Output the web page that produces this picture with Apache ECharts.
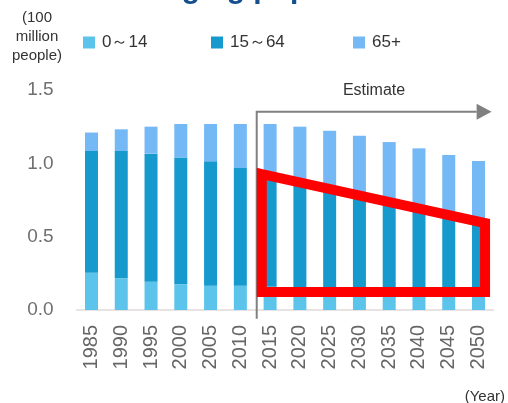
<!DOCTYPE html>
<html>
<head>
<meta charset="utf-8">
<script src="https://cdn.jsdelivr.net/npm/echarts@6/dist/echarts.min.js"></script>
<style>
  html, body { margin: 0; padding: 0; background: #ffffff; }
  #chart { width: 508px; height: 403px; }
</style>
</head>
<body>
<div id="chart"></div>
<script>
// Population by age group, in units of 100 million people
const years = ['1985', '1990', '1995', '2000', '2005', '2010', '2015',
               '2020', '2025', '2030', '2035', '2040', '2045', '2050'];
const age0to14  = [0.254, 0.216, 0.193, 0.175, 0.166, 0.166, 0.158,
                   0.146, 0.132, 0.120, 0.110, 0.103, 0.097, 0.094];
const age15to64 = [0.830, 0.868, 0.873, 0.865, 0.848, 0.802, 0.757,
                   0.724, 0.694, 0.661, 0.626, 0.588, 0.550, 0.508];
const age65plus = [0.126, 0.148, 0.184, 0.228, 0.254, 0.300, 0.353,
                   0.380, 0.396, 0.407, 0.409, 0.411, 0.410, 0.414];
const yTicks = { min: 0, max: 1.5, step: 0.5 };

// Estimate annotations, in axis units (category index, 100 million people)
const frameX = [5.72, 13.22];
const frameTop = [0.927, 0.593];
const frameBottom = 0.123;
const arrowX = [5.55, 13.44];
const arrowY = 1.352;
const arrowFootY = -0.06;
const estimateLabelPos = [9.49, 1.493];

const colors = { young: '#5cc3ea', working: '#169acd', old: '#74b8f6' };

const chart = echarts.init(document.getElementById('chart'));

const legendBase = {
  top: 29,
  itemWidth: 12,
  itemHeight: 12,
  icon: 'rect',
  selectedMode: false,
  textStyle: { fontSize: 17, color: '#333333', fontFamily: 'Liberation Sans, Arial, sans-serif', padding: [0, 0, 0, 2] }
};

function bar(name, data, color) {
  return {
    name: name,
    type: 'bar',
    stack: 'pop',
    barWidth: 13,
    data: data,
    itemStyle: { color: color },
    emphasis: { disabled: true }
  };
}

chart.setOption({
  animation: false,
  textStyle: { fontFamily: 'Liberation Sans, Arial, sans-serif' },
  grid: { left: 76.6, right: 14.6, top: 90, bottom: 93 },
  legend: [
    Object.assign({ left: 78, data: ['0～14'] }, legendBase),
    Object.assign({ left: 206, data: ['15～64'] }, legendBase),
    Object.assign({ left: 348, data: ['65+'] }, legendBase)
  ],
  xAxis: [{
    type: 'category',
    data: years,
    axisLine: { lineStyle: { color: '#e2d9d9', width: 1.5 } },
    axisTick: { show: false },
    axisLabel: { rotate: 90, fontSize: 20, color: '#666666', margin: 15 }
  }, {
    type: 'value',
    min: -0.5,
    max: years.length - 0.5,
    show: false
  }],
  yAxis: {
    type: 'value',
    min: yTicks.min,
    max: yTicks.max,
    interval: yTicks.step,
    axisLine: { show: false },
    axisTick: { show: false },
    splitLine: { show: false },
    axisLabel: {
      fontSize: 19, color: '#6f6f6f', margin: 23,
      formatter: v => v.toFixed(1)
    }
  },
  graphic: [
    {
      type: 'text', x: 160, y: -25,
      style: { text: 'Aging population', font: 'bold 30px Liberation Sans, Arial, sans-serif',
               fill: '#154f8e', textAlign: 'left', textVerticalAlign: 'top' }
    },
    {
      type: 'text', x: 37, y: 37,
      style: { text: '(100\nmillion\npeople)', font: '15px Liberation Sans, Arial, sans-serif',
               lineHeight: 19, fill: '#333333', textAlign: 'center', textVerticalAlign: 'middle' }
    },
    {
      type: 'text', x: 505, y: 397,
      style: { text: '(Year)', font: '15px Liberation Sans, Arial, sans-serif',
               fill: '#333333', textAlign: 'right', textVerticalAlign: 'middle' }
    }
  ],
  series: [
    bar('0～14', age0to14, colors.young),
    bar('15～64', age15to64, colors.working),
    bar('65+', age65plus, colors.old),
    {
      type: 'custom',
      xAxisIndex: 1,
      yAxisIndex: 0,
      silent: true,
      z: 10,
      data: [[arrowX[0], arrowY]],
      renderItem: function (params, api) {
        const p = (x, y) => api.coord([x, y]);
        const a = p(frameX[0], frameTop[0]);
        const b = p(frameX[1], frameTop[1]);
        const c = p(frameX[1], frameBottom);
        const d = p(frameX[0], frameBottom);
        const foot = p(arrowX[0], arrowFootY);
        const corner = p(arrowX[0], arrowY);
        const tip = p(arrowX[1], arrowY);
        const lab = p(estimateLabelPos[0], estimateLabelPos[1]);
        const headLen = 15, headHalf = 8;
        return {
          type: 'group',
          children: [
            {
              type: 'polyline',
              shape: { points: [foot, corner, [tip[0] - headLen, tip[1]]] },
              style: { stroke: '#808080', lineWidth: 2, fill: 'none' }
            },
            {
              type: 'polygon',
              shape: { points: [tip, [tip[0] - headLen, tip[1] - headHalf], [tip[0] - headLen, tip[1] + headHalf]] },
              style: { fill: '#808080', stroke: 'none' }
            },
            {
              type: 'polygon',
              shape: { points: [a, b, c, d] },
              style: { fill: 'none', stroke: '#ff0000', lineWidth: 10, lineJoin: 'miter' }
            },
            {
              type: 'text',
              x: lab[0], y: lab[1],
              style: { text: 'Estimate', font: '16px Liberation Sans, Arial, sans-serif',
                       fill: '#333333', textAlign: 'center', textVerticalAlign: 'middle' }
            }
          ]
        };
      }
    }
  ]
});
</script>
</body>
</html>
